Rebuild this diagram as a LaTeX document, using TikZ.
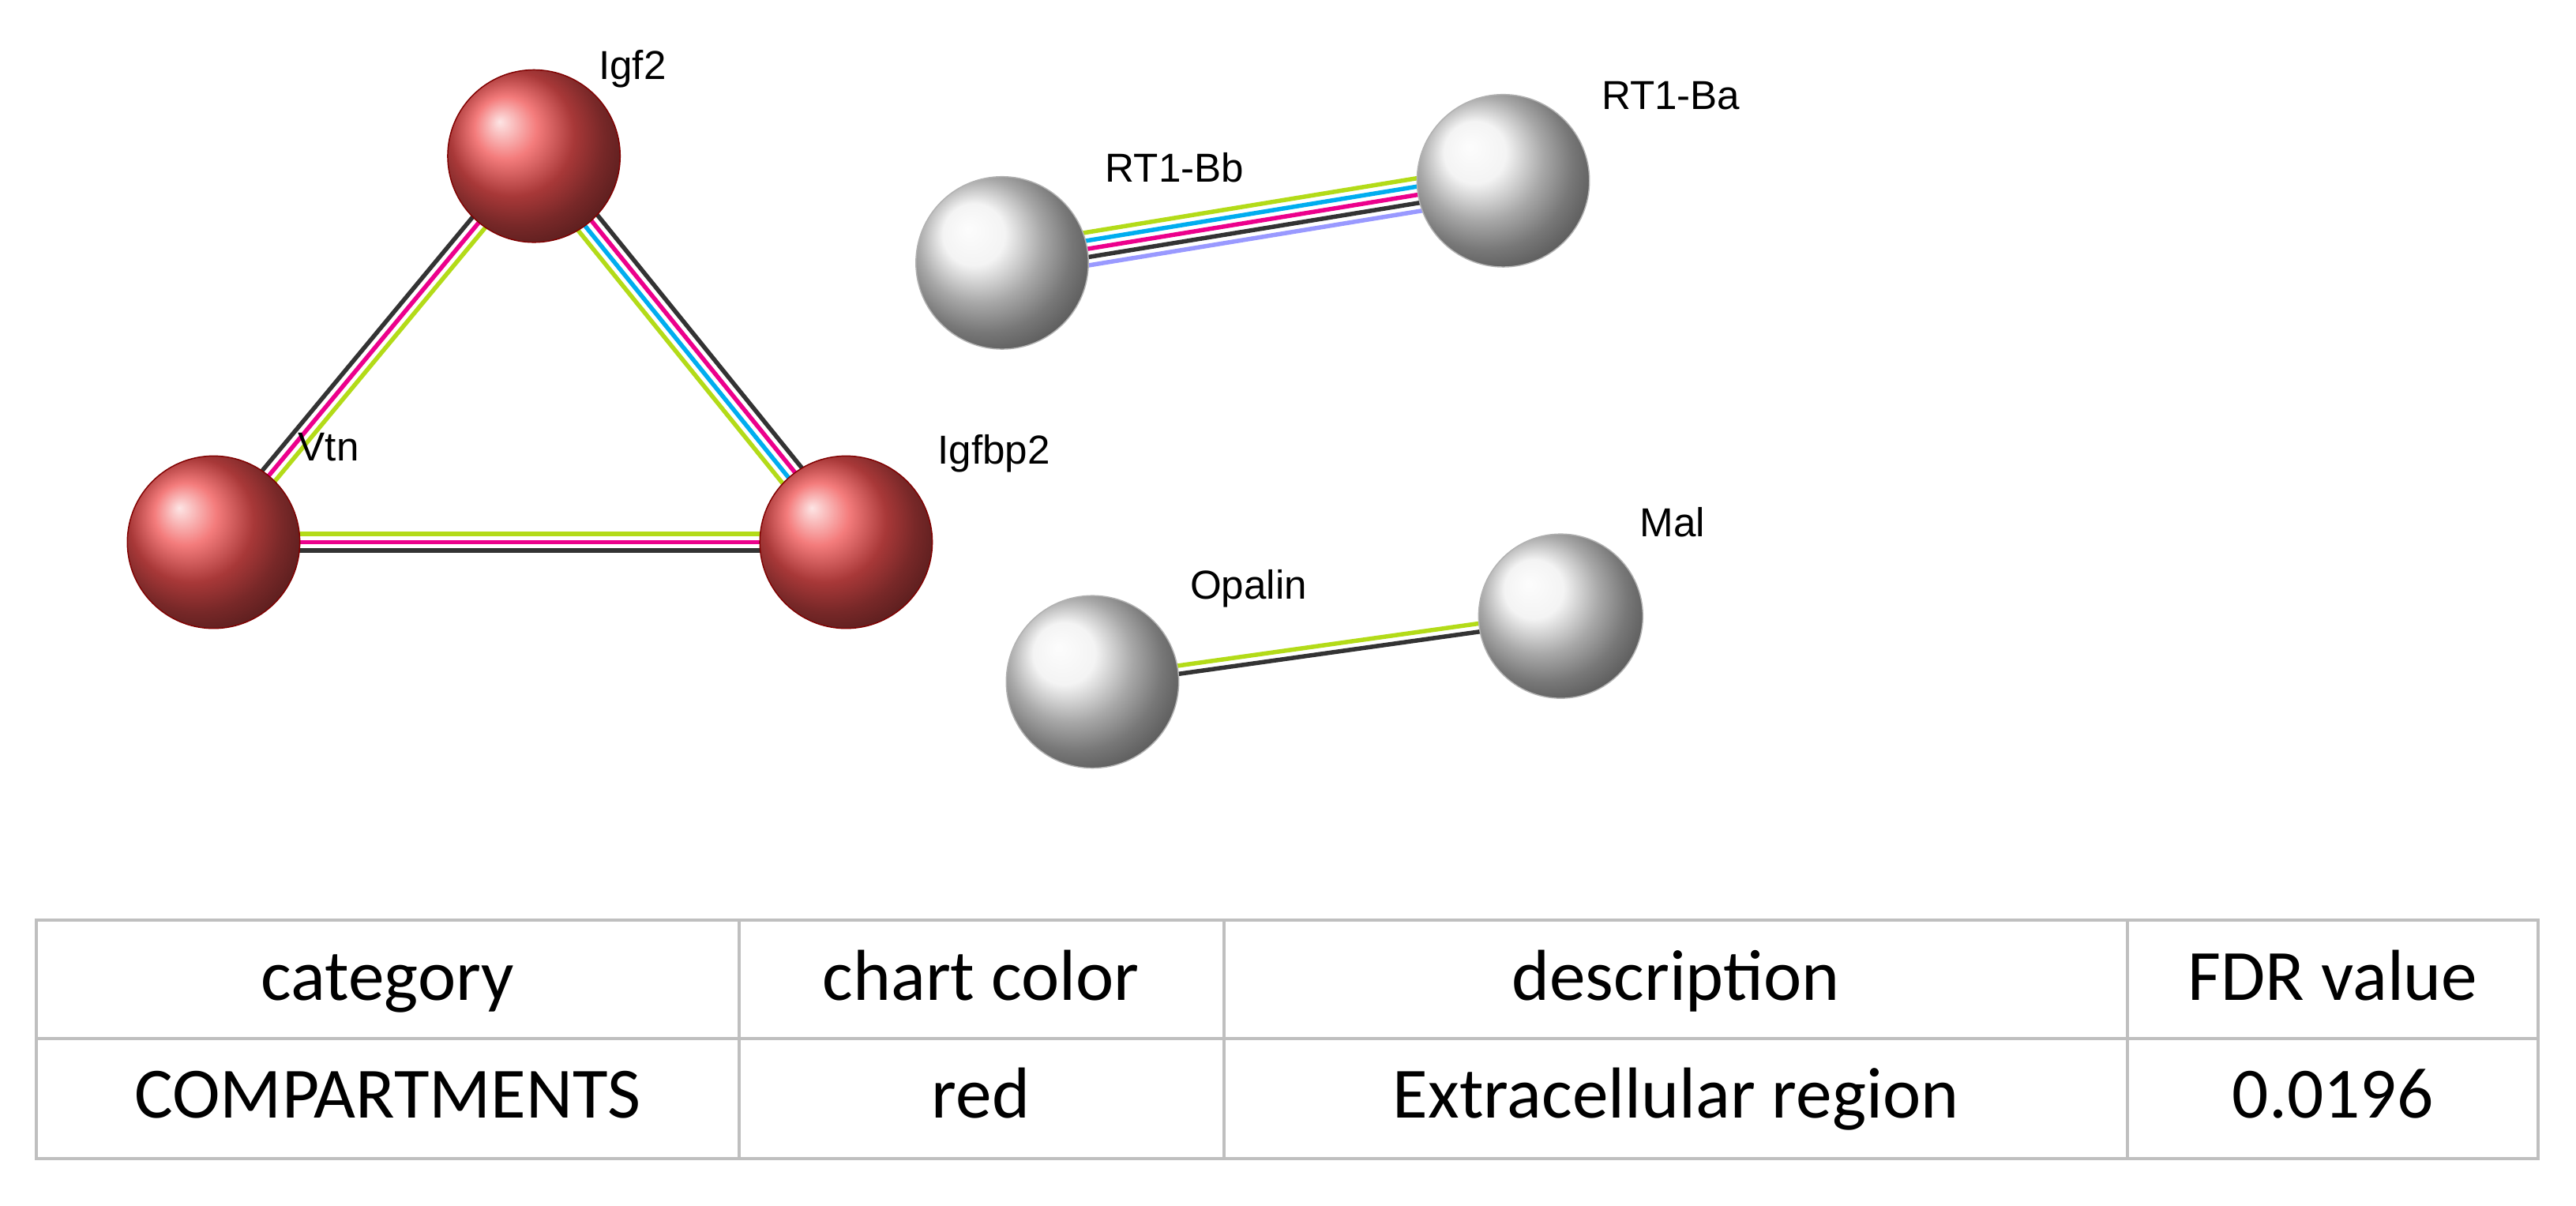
\documentclass[tikz,border=0pt]{standalone}
\usepackage{fontspec}
\setmainfont{Carlito}
\newfontfamily\lab{Liberation Sans}
\usetikzlibrary{calc}
\definecolor{ballred}{RGB}{240,80,80}
\newcommand{\pedge}[4]{\draw[#4,line width=1.5pt] ($(#1)!#3!90:(#2)$) -- ($(#2)!#3!-90:(#1)$);}
\begin{document}
\begin{tikzpicture}[x=0.02cm,y=-0.02cm,
  redball/.style={circle,minimum size=2.1cm,inner sep=0,shading=ball,ball color=ballred,draw=red!50!black,line width=0.4pt},
  grayball/.style={circle,minimum size=2.1cm,inner sep=0,shading=ball,ball color=gray!12,draw=gray!60,line width=0.4pt},
  lbl/.style={font=\lab\fontsize{14}{16}\selectfont,inner sep=0},
  cell/.style={font=\fontsize{25}{30}\selectfont,text height=18pt,text depth=6pt}]
\fill[white] (0,0) rectangle (1568,734);
\useasboundingbox (0,0) rectangle (1568,734);
\coordinate (cIgf2) at (325,95);
\coordinate (cVtn) at (130,330);
\coordinate (cIgfbp2) at (515,330);
\coordinate (cBb) at (610,160);
\coordinate (cBa) at (915,110);
\coordinate (cOp) at (665,415);
\coordinate (cMal) at (950,375);
% edges
\pedge{cIgf2}{cVtn}{-0.1cm}{black!80}
\pedge{cIgf2}{cVtn}{0cm}{magenta}
\pedge{cIgf2}{cVtn}{0.1cm}{yellow!70!green}
\pedge{cIgf2}{cIgfbp2}{0.15cm}{black!80}
\pedge{cIgf2}{cIgfbp2}{0.05cm}{magenta}
\pedge{cIgf2}{cIgfbp2}{-0.05cm}{cyan}
\pedge{cIgf2}{cIgfbp2}{-0.15cm}{yellow!70!green}
\pedge{cVtn}{cIgfbp2}{0.1cm}{yellow!70!green}
\pedge{cVtn}{cIgfbp2}{0cm}{magenta}
\pedge{cVtn}{cIgfbp2}{-0.1cm}{black!80}
\pedge{cBb}{cBa}{0.2cm}{yellow!70!green}
\pedge{cBb}{cBa}{0.1cm}{cyan}
\pedge{cBb}{cBa}{0cm}{magenta}
\pedge{cBb}{cBa}{-0.1cm}{black!80}
\pedge{cBb}{cBa}{-0.2cm}{blue!40}
\pedge{cOp}{cMal}{0.05cm}{yellow!70!green}
\pedge{cOp}{cMal}{-0.05cm}{black!80}
% nodes
\node[redball] (Igf2) at (cIgf2) {};
\node[redball] (Vtn) at (cVtn) {};
\node[redball] (Igfbp2) at (cIgfbp2) {};
\node[grayball] (Bb) at (cBb) {};
\node[grayball] (Ba) at (cBa) {};
\node[grayball] (Op) at (cOp) {};
\node[grayball,minimum size=2cm] (Mal) at (cMal) {};
\node[lbl] (lIgf2) at (385,42) {Igf2};
\node[lbl] (lVtn) at (200,272) {Vtn};
\node[lbl] (lIgfbp2) at (605,276) {Igfbp2};
\node[lbl] (lBb) at (715,102) {RT1-Bb};
\node[lbl] (lBa) at (1017,58) {RT1-Ba};
\node[lbl] (lOp) at (760,358) {Opalin};
\node[lbl] (lMal) at (1018,318) {Mal};
% table
\draw[gray!50,line width=1pt] (22,560) rectangle (1545,705);
\draw[gray!50,line width=1pt] (22,632) -- (1545,632);
\foreach \x in {450,745,1295} \draw[gray!50,line width=1pt] (\x,560) -- (\x,705);
\node[cell] (h1) at (236,598) {category};
\node[cell] (h2) at (597,598) {chart color};
\node[cell] (h3) at (1020,598) {description};
\node[cell] (h4) at (1420,598) {FDR value};
\node[cell] (d1) at (236,670) {COMPARTMENTS};
\node[cell] (d2) at (597,670) {red};
\node[cell] (d3) at (1020,670) {Extracellular region};
\node[cell] (d4) at (1420,670) {0.0196};
\end{tikzpicture}
\end{document}
